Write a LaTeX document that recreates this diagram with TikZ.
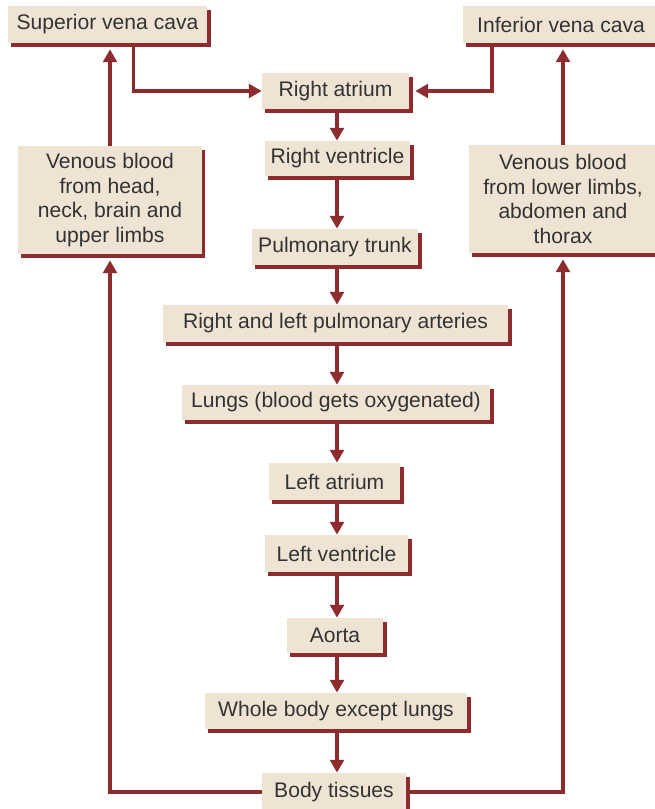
\documentclass[tikz,border=0pt]{standalone}
\usepackage{fontspec}
\setmainfont{Liberation Sans}
\usetikzlibrary{arrows.meta}
\definecolor{boxfill}{HTML}{EFE4D3}
\definecolor{bloodred}{HTML}{8E2B2E}
\definecolor{txtgray}{HTML}{333333}
\begin{document}
\begin{tikzpicture}[x=0.025cm, y=-0.025cm,
  every node/.style={align=center},
  blk/.style={fill=boxfill, text=txtgray, inner sep=0pt, font=\fontsize{15}{17.6}\selectfont},
  edge/.style={draw=bloodred, line width=0.09cm},
  arr/.style={draw=bloodred, line width=0.08cm, -{Triangle[length=0.32cm, width=0.34cm]}}]
\useasboundingbox (0,0) rectangle (654,809);

\node[blk, minimum width=4.975cm, minimum height=0.925cm] at (107.5,24.5) (svc) {Superior vena cava};
\node[blk, minimum width=4.9cm, minimum height=0.925cm] at (561,24.5) (ivc) {Inferior vena cava};
\node[blk, minimum width=4.575cm, minimum height=2.7cm] at (110,200) (upper) {Venous blood\\from head,\\neck, brain and\\upper limbs};
\node[blk, minimum width=4.7cm, minimum height=2.7cm] at (563,199) (lower) {Venous blood\\from lower limbs,\\abdomen and\\thorax};

\node[blk, minimum width=3.675cm, minimum height=0.9cm] at (335.5,91) (ra) {Right atrium};
\node[blk, minimum width=3.625cm, minimum height=0.875cm] at (337.5,158.5) (rv) {Right ventricle};
\node[blk, minimum width=4.15cm, minimum height=0.9cm] at (335,247) (trunk) {Pulmonary trunk};
\node[blk, minimum width=8.625cm, minimum height=0.925cm] at (335.5,323.5) (arteries) {Right and left pulmonary arteries};
\node[blk, minimum width=7.7cm, minimum height=0.875cm] at (336,402.5) (lungs) {Lungs (blood gets oxygenated)};
\node[blk, minimum width=3.275cm, minimum height=0.925cm] at (334.5,481.5) (la) {Left atrium};
\node[blk, minimum width=3.575cm, minimum height=0.925cm] at (336.5,553.5) (lv) {Left ventricle};
\node[blk, minimum width=2.4cm, minimum height=0.875cm] at (335,635.5) (aorta) {Aorta};
\node[blk, minimum width=6.55cm, minimum height=0.9cm] at (336,711) (body) {Whole body except lungs};
\node[blk, minimum width=3.6cm, minimum height=0.95cm] at (334,792) (tissues) {Body tissues};

% red edge under and right of each box
\foreach \n in {svc,ivc,upper,lower,ra,rv,trunk,arteries,lungs,la,lv,aorta,body,tissues}
  \draw[edge] ([shift={(3,1.8)}]\n.south west) -- ([shift={(1.8,1.8)}]\n.south east) -- ([shift={(1.8,4)}]\n.north east);

% main line down the middle
\coordinate (axis) at (337,0);
\foreach \a/\b in {ra/rv,rv/trunk,trunk/arteries,arteries/lungs,lungs/la,la/lv,lv/aorta,aorta/body,body/tissues}
  \draw[arr] (\a.south -| axis) -- (\b.north -| axis);

% return to the heart
\draw[arr, shorten >=0.15cm] (tissues.west) -| (upper.south);
\draw[arr, shorten >=0.15cm] (upper.north) -- (upper.north |- svc.south);
\draw[arr] ([xshift=0.64cm]svc.south) |- (ra.west);
\draw[arr, shorten >=0.15cm] (tissues.east) -| (lower.south);
\draw[arr, shorten >=0.15cm] (lower.north) -- (lower.north |- ivc.south);
\draw[arr, shorten >=0.15cm] ([xshift=-1.725cm]ivc.south) |- (ra.east);
\end{tikzpicture}
\end{document}
